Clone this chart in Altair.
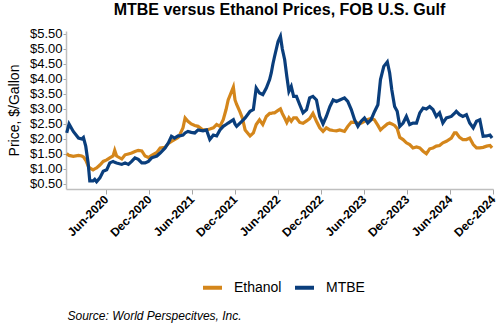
import altair as alt
import pandas as pd

dates = [
    "2019-12-17", "2019-12-27", "2020-01-14", "2020-02-05", "2020-02-19", "2020-02-26",
    "2020-03-07", "2020-03-17", "2020-03-24", "2020-04-07", "2020-04-14", "2020-04-22",
    "2020-05-06", "2020-05-20", "2020-06-04", "2020-06-17", "2020-07-01", "2020-07-08",
    "2020-07-16", "2020-08-07", "2020-08-21", "2020-09-04", "2020-09-18", "2020-10-02",
    "2020-10-16", "2020-10-31", "2020-11-14", "2020-11-28", "2020-12-12", "2021-01-03",
    "2021-01-17", "2021-02-07", "2021-02-21", "2021-03-06", "2021-03-19", "2021-04-03",
    "2021-04-10", "2021-04-24", "2021-05-03", "2021-05-15", "2021-05-29", "2021-06-13",
    "2021-06-27", "2021-07-18", "2021-08-02", "2021-08-16", "2021-08-31", "2021-09-14",
    "2021-09-28", "2021-10-12", "2021-10-24", "2021-11-02", "2021-11-24", "2021-12-01",
    "2021-12-08", "2021-12-22", "2022-01-01", "2022-01-13", "2022-02-03", "2022-02-17",
    "2022-03-01", "2022-03-15", "2022-03-29", "2022-04-13", "2022-04-27", "2022-05-04",
    "2022-05-11", "2022-05-18", "2022-06-02", "2022-06-12", "2022-06-20", "2022-06-30",
    "2022-07-09", "2022-07-18", "2022-07-28", "2022-08-07", "2022-08-19", "2022-09-02",
    "2022-09-16", "2022-10-01", "2022-10-14", "2022-10-28", "2022-11-12", "2022-11-26",
    "2022-12-10", "2022-12-24", "2023-01-08", "2023-01-22", "2023-02-05", "2023-02-19",
    "2023-03-11", "2023-03-25", "2023-04-09", "2023-04-23", "2023-05-07", "2023-05-21",
    "2023-06-04", "2023-06-18", "2023-07-02", "2023-07-16", "2023-07-31", "2023-08-11",
    "2023-08-25", "2023-09-09", "2023-09-19", "2023-09-28", "2023-10-10", "2023-10-21",
    "2023-11-01", "2023-11-15", "2023-11-29", "2023-12-13", "2023-12-27", "2024-01-11",
    "2024-01-25", "2024-02-08", "2024-02-22", "2024-03-07", "2024-03-21", "2024-04-04",
    "2024-04-18", "2024-05-02", "2024-05-17", "2024-06-07", "2024-06-20", "2024-06-28",
    "2024-07-12", "2024-07-26", "2024-08-10", "2024-08-24", "2024-09-08", "2024-09-22",
    "2024-10-06", "2024-10-20", "2024-11-04", "2024-11-18", "2024-11-27",
]

mtbe = [
    2.20, 2.50, 2.25, 2.03, 2.00, 2.05,
    1.75, 1.20, 0.60, 0.60, 0.65, 0.57,
    0.70, 0.92, 0.97, 1.20, 1.25, 1.22,
    1.20, 1.15, 1.20, 1.15, 1.25, 1.37,
    1.32, 1.20, 1.20, 1.25, 1.37, 1.43,
    1.53, 1.70, 1.87, 2.09, 2.03, 2.10,
    2.10, 2.13, 2.20, 2.25, 2.22, 2.20,
    2.30, 2.27, 2.30, 1.98, 2.13, 2.10,
    2.30, 2.42, 2.48, 2.53, 2.64, 2.50,
    2.42, 2.53, 2.60, 2.70, 2.92, 2.98,
    3.70, 3.53, 3.48, 3.70, 3.98, 4.20,
    4.50, 4.75, 5.25, 5.42, 5.00, 4.64,
    4.09, 3.59, 3.75, 3.42, 3.42, 3.14,
    2.87, 2.98, 3.37, 3.42, 3.30, 2.75,
    2.50, 2.75, 3.08, 3.30, 3.25, 3.30,
    3.37, 3.25, 2.98, 2.64, 2.42, 2.59,
    2.70, 2.53, 2.64, 2.90, 3.14, 3.98,
    4.42, 4.57, 4.20, 3.64, 3.08, 2.92,
    2.42, 2.53, 2.75, 2.48, 2.53, 2.53,
    2.87, 3.03, 3.00, 3.08, 2.98, 2.75,
    2.87, 2.53, 2.70, 2.75, 2.85, 2.92,
    2.81, 2.75, 2.81, 2.53, 2.37, 2.59,
    2.64, 2.09, 2.10, 2.13, 2.03,
]

ethanol = [
    1.51, 1.45, 1.42, 1.45, 1.43, 1.40,
    1.29, 1.10, 1.03, 0.97, 1.00, 1.03,
    1.13, 1.25, 1.30, 1.37, 1.43, 1.62,
    1.43, 1.33, 1.47, 1.50, 1.53, 1.58,
    1.62, 1.60, 1.43, 1.38, 1.45, 1.55,
    1.70, 1.72, 1.85, 1.92, 1.98, 2.05,
    2.13, 2.37, 2.70, 2.59, 2.50, 2.45,
    2.42, 2.30, 2.30, 2.33, 2.37, 2.48,
    2.42, 2.64, 2.98, 3.30, 3.73, 3.30,
    3.15, 2.90, 2.70, 2.30, 2.10, 2.20,
    2.48, 2.64, 2.48, 2.75, 2.85, 2.85,
    2.87, 2.87, 2.95, 3.00, 2.85, 2.70,
    2.55, 2.70, 2.59, 2.70, 2.70, 2.55,
    2.52, 2.60, 2.68, 2.85, 2.59, 2.37,
    2.25, 2.37, 2.30, 2.28, 2.27, 2.30,
    2.25, 2.42, 2.56, 2.55, 2.53, 2.53,
    2.59, 2.65, 2.68, 2.64, 2.45, 2.30,
    2.40, 2.50, 2.53, 2.50, 2.45, 2.35,
    2.05, 1.98, 1.87, 1.81, 1.70, 1.73,
    1.70, 1.59, 1.51, 1.67, 1.70, 1.76,
    1.78, 1.87, 1.92, 2.03, 2.20, 2.20,
    2.05, 1.98, 1.98, 2.03, 1.81, 1.70,
    1.70, 1.72, 1.76, 1.78, 1.70,
]

series_names = ["Ethanol", "MTBE"]
series_colors = ["#D4861B", "#0A3E7C"]
tick_dates = [(2020, 6), (2020, 12), (2021, 6), (2021, 12), (2022, 6), (2022, 12),
              (2023, 6), (2023, 12), (2024, 6), (2024, 12)]
y_ticks = [0.5, 1.0, 1.5, 2.0, 2.5, 3.0, 3.5, 4.0, 4.5, 5.0, 5.5]

df = pd.concat([
    pd.DataFrame({"date": dates, "price": ethanol, "series": "Ethanol"}),
    pd.DataFrame({"date": dates, "price": mtbe, "series": "MTBE"}),
])

FONT = "Liberation Sans"

chart = alt.Chart(df).mark_line(strokeWidth=3.2, interpolate="linear").encode(
    x=alt.X(
        "date:T",
        scale=alt.Scale(domain=[alt.DateTime(year=2019, month=12, date=14),
                                alt.DateTime(year=2024, month=12, date=1)], nice=False),
        axis=alt.Axis(
            values=[alt.DateTime(year=y, month=m, date=1) for y, m in tick_dates],
            format="%b-%Y",
            labelAngle=-45,
            labelAlign="right",
            labelBaseline="middle",
            labelOverlap=False,
            labelFont=FONT,
            labelFontSize=12,
            labelFontWeight="bold",
            labelColor="#000000",
            labelPadding=3,
            tickSize=5,
            tickColor="#A6A6A6",
            domainColor="#BFBFBF",
            domainWidth=1.5,
            grid=False,
            title="Source: World Perspecitves, Inc.",
            titleFont=FONT,
            titleFontSize=12,
            titleFontStyle="italic",
            titleFontWeight="normal",
            titleColor="#000000",
            titleAlign="left",
            titleBaseline="alphabetic",
            titleAnchor="start",
            titleX=1,
            titleY=130,
        ),
    ),
    y=alt.Y(
        "price:Q",
        scale=alt.Scale(domain=[0.33, 5.6], nice=False, zero=False),
        axis=alt.Axis(
            values=y_ticks,
            format="$.2f",
            labelFont=FONT,
            labelFontSize=13,
            labelColor="#000000",
            labelPadding=1,
            tickSize=3,
            tickColor="#A6A6A6",
            domainColor="#BFBFBF",
            domainWidth=1.5,
            grid=False,
            title="Price, $/Gallon",
            titleFont=FONT,
            titleFontSize=14,
            titleFontWeight="normal",
            titleColor="#000000",
            titlePadding=8,
        ),
    ),
    color=alt.Color(
        "series:N",
        scale=alt.Scale(domain=series_names, range=series_colors),
        legend=alt.Legend(
            title=None,
            orient="none",
            direction="horizontal",
            legendX=135,
            legendY=245,
            symbolType="stroke",
            symbolSize=361,
            symbolStrokeWidth=4,
            labelFont=FONT,
            labelFontSize=14,
            labelColor="#000000",
            labelOffset=10,
            columnPadding=5,
        ),
    ),
).properties(
    width=427,
    height=158,
    title=alt.TitleParams(
        "MTBE versus Ethanol Prices, FOB U.S. Gulf",
        font=FONT,
        fontSize=16,
        fontWeight="bold",
        color="#000000",
        anchor="middle",
        frame="group",
        offset=10,
    ),
    autosize=alt.AutoSizeParams(type="none"),
    padding={"left": 66, "top": 31, "right": 7, "bottom": 141},
).configure_view(stroke=None)

chart.save("out.html", embed_options={"renderer": "svg", "actions": False})
